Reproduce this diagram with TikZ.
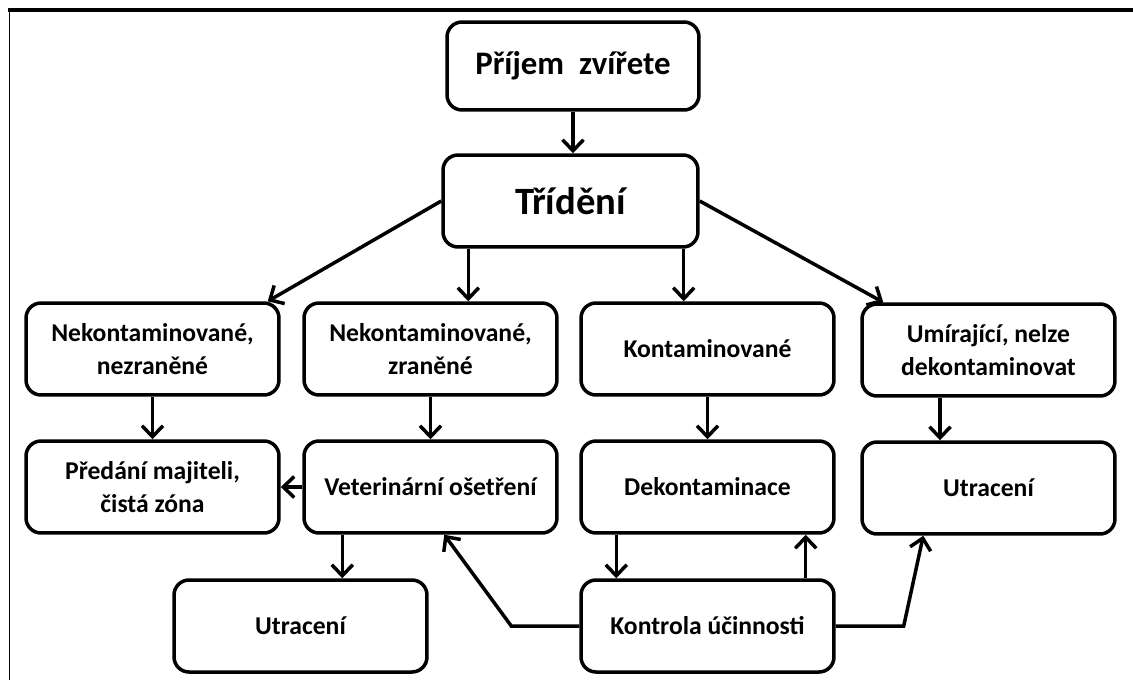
\documentclass[tikz,border=0pt]{standalone}
\usepackage{fontspec}
\setmainfont{Carlito}
\usetikzlibrary{positioning}
\usetikzlibrary{arrows.meta}

\begin{document}
\begin{tikzpicture}[x=0.02cm, y=-0.02cm,
box/.style={draw, line width=0.07cm, rounded corners=0.3cm, minimum width=5.06cm, minimum height=1.84cm, inner sep=0pt, align=center, font=\fontsize{14.6}{19}\selectfont\bfseries},
arr/.style={line width=0.07cm, -{Straight Barb[length=0.22cm,width=0.42cm]}}]

\useasboundingbox (0,0) rectangle (1133,680);

%frame
\draw[line width=0.08cm] (8,10)--(1133,10);
\draw[line width=0.025cm] (9.5,10)--(9.5,680);

% nodes
{
\node[box, minimum width=5.04cm, minimum height=1.76cm, font=\fontsize{18.7}{22}\selectfont\bfseries] (prijem) at (573,66) {Příjem~ zvířete};
\node[box, minimum width=5.1cm, font=\fontsize{22}{26}\selectfont\bfseries] (trideni) at (570.5,201) {Třídění};

\node[box] (nk1) at (152.5,349) {Nekontaminované,\\nezraněné};
\node[box] (nk2) at (430.5,349) {Nekontaminované,\\zraněné};
\node[box] (kont) at (707.5,349) {Kontaminované};
\node[box] (umir) at (988.5,350) {Umírající, nelze\\dekontaminovat};

\node[box] (predani) at (152.5,487) {Předání majiteli,\\čistá zóna};
\node[box] (vet) at (430.5,487) {Veterinární ošetření};
\node[box] (dekont) at (707.5,487) {Dekontaminace};
\node[box] (utr2) at (988.5,488) {Utracení};

\node[box] (utr1) at (300.5,626) {Utracení};
\node[box] (kontrola) at (707.5,626) {Kontrola účinnosti};
}

% arrows
{
\draw[arr] (prijem.south)--(prijem.south |- trideni.north);

\draw[arr] (trideni.west)--([xshift=-0.26cm]nk1.north east);
\draw[arr] ([xshift=0.54cm]trideni.south west)--([xshift=0.54cm]trideni.south west |- nk2.north);
\draw[arr] ([xshift=-0.32cm]trideni.south east)--([xshift=-0.32cm]trideni.south east |- kont.north);
\draw[arr] (trideni.east)--([xshift=0.46cm]umir.north west);

\draw[arr] (nk1)--(predani);
\draw[arr] (nk2)--(vet);
\draw[arr] (kont)--(dekont);
\draw[arr] ([xshift=-0.97cm]umir.south)--([xshift=-0.97cm]utr2.north);

\draw[arr] (vet)--(predani);
\draw[arr] ([xshift=0.8cm]vet.south west)--([xshift=0.8cm]vet.south west |- utr1.north);
\draw[arr] ([xshift=0.74cm]dekont.south west)--([xshift=0.74cm]dekont.south west |- kontrola.north);
\draw[arr] ([xshift=-0.6cm]kontrola.north east)--([xshift=-0.6cm]kontrola.north east |- dekont.south);

\coordinate (bendL) at ([xshift=-1.36cm]kontrola.west);
\coordinate (bendR) at ([xshift=1.36cm]kontrola.east);
\draw[arr] (kontrola.west)--(bendL)--([xshift=2.84cm]vet.south west);
\draw[arr] (kontrola.east)--(bendR)--([xshift=1.26cm]utr2.south west);
}

\end{tikzpicture}
\end{document}
